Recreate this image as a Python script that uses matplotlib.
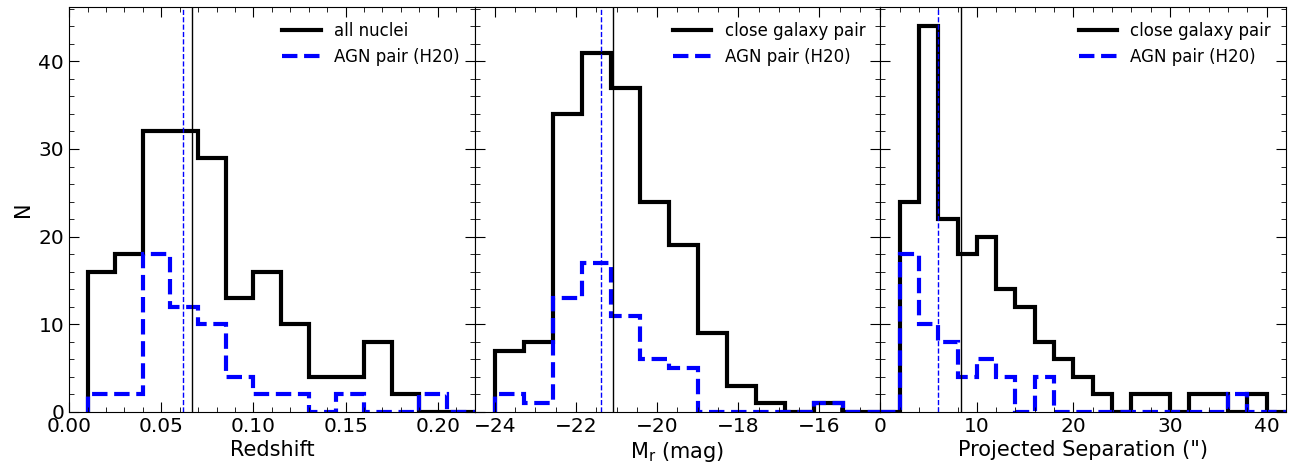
import matplotlib
matplotlib.use('Agg')
import matplotlib.pyplot as plt
import numpy as np
from matplotlib.ticker import AutoMinorLocator

# ---- data ----
# Redshift
z_edges = np.round(np.arange(0.01, 0.2201, 0.015), 3)
z_all = [16, 18, 32, 32, 29, 13, 16, 10, 4, 4, 8, 2, 0, 0]
z_agn = [2, 2, 18, 12, 10, 4, 2, 2, 0, 2, 0, 0, 2, 0]
z_med_all = 0.0665
z_med_agn = 0.0617

# absolute magnitude M_r
m_edges = np.linspace(-24, -14, 15)
m_all = [7, 8, 34, 41, 37, 24, 19, 9, 3, 1, 0, 1, 0, 0]
m_agn = [2, 1, 13, 17, 11, 6, 5, 0, 0, 0, 0, 1, 0, 0]
m_med_all = -21.10
m_med_agn = -21.39

# projected separation (arcsec)
s_edges = np.arange(0, 44, 2)
s_all = [0, 24, 44, 22, 18, 20, 14, 12, 8, 6, 4, 2, 0, 2, 2, 0, 2, 2, 0, 2, 0]
s_agn = [0, 18, 10, 8, 4, 6, 4, 0, 4, 0, 0, 0, 0, 0, 0, 0, 0, 0, 2, 0, 0]
s_med_all = 8.4
s_med_agn = 6.0

panels = [
    (z_edges, z_all, z_agn, z_med_all, z_med_agn, 'all nuclei', 'Redshift', (0, 0.22)),
    (m_edges, m_all, m_agn, m_med_all, m_med_agn, 'close galaxy pair', r'M$_{\rm r}$ (mag)', (-24.5, -14.5)),
    (s_edges, s_all, s_agn, s_med_all, s_med_agn, 'close galaxy pair', 'Projected Separation (")', (0, 42)),
]

fig, axes = plt.subplots(1, 3, figsize=(12.91, 4.66), dpi=100, sharey=True)
fig.subplots_adjust(left=0.0535, right=0.996, top=0.985, bottom=0.116, wspace=0)

for ax, (edges, c_all, c_agn, med_all, med_agn, lab, xlab, xlim) in zip(axes, panels):
    ax.stairs(c_all, edges, color='k', lw=3, label=lab)
    ax.stairs(c_agn, edges, color='b', lw=3, ls='--', label='AGN pair (H20)')
    ax.axvline(med_all, color='k', lw=1)
    ax.axvline(med_agn, color='b', lw=1, ls='--')
    ax.set_xlim(xlim)
    ax.set_ylim(0, 46.2)
    ax.set_xlabel(xlab, fontsize=15, labelpad=3)
    ax.xaxis.set_minor_locator(AutoMinorLocator())
    ax.yaxis.set_minor_locator(AutoMinorLocator())
    ax.tick_params(which='both', direction='in', top=True, right=True, labelsize=14.5)
    ax.tick_params(which='major', length=7)
    ax.tick_params(which='minor', length=3.5)
    ax.legend(loc='upper right', frameon=False, fontsize=12, handlelength=2.3)

axes[0].set_ylabel('N', fontsize=15)
axes[0].set_xticks([0.0, 0.05, 0.10, 0.15, 0.20])
axes[0].set_xticklabels(['0.00', '0.05', '0.10', '0.15', '0.20'])
axes[1].set_xticks([-24, -22, -20, -18, -16])
axes[2].set_xticks([0, 10, 20, 30, 40])

plt.savefig('out.png', dpi=100)
